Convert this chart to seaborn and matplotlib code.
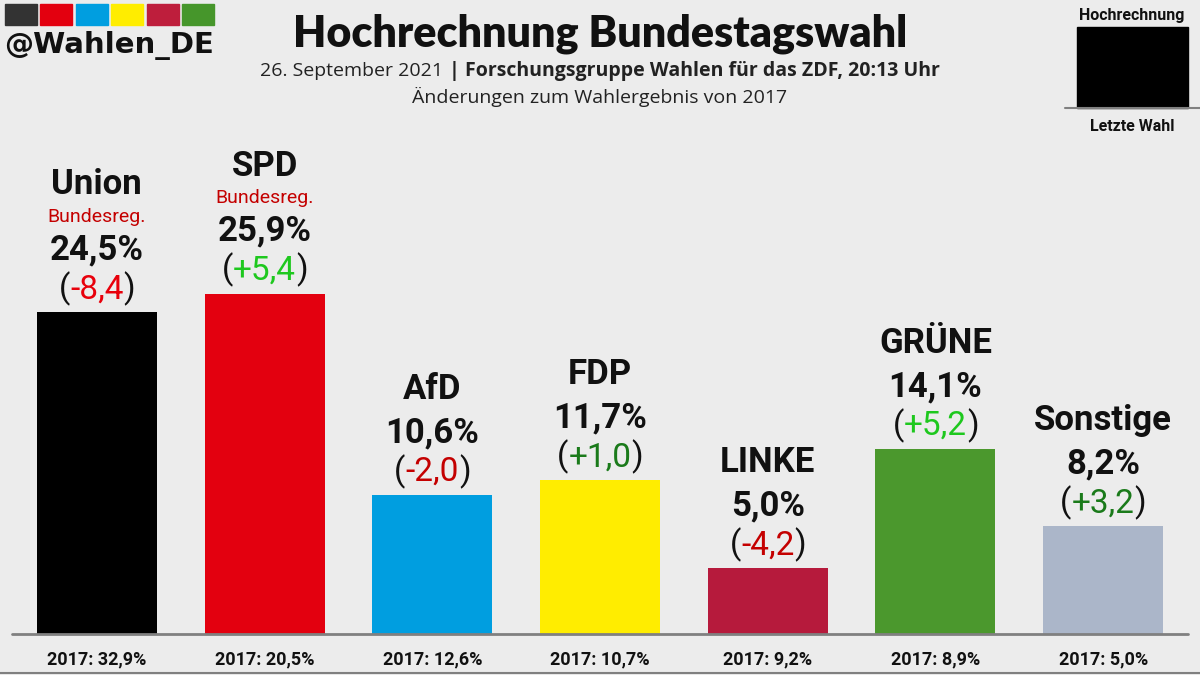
import numpy as np
import pandas as pd
import matplotlib
matplotlib.use("Agg")
import matplotlib.pyplot as plt
import seaborn as sns
from matplotlib.patches import Rectangle
from matplotlib.lines import Line2D

# Daten der Hochrechnung
parteien = ["Union", "SPD", "AfD", "FDP", "LINKE", "GRÜNE", "Sonstige"]
werte = [24.5, 25.9, 10.6, 11.7, 5.0, 14.1, 8.2]
aenderung = [-8.4, 5.4, -2.0, 1.0, -4.2, 5.2, 3.2]
wahl_2017 = [32.9, 20.5, 12.6, 10.7, 9.2, 8.9, 5.0]
regierung = [True, True, False, False, False, False, False]
farben = ["#000000", "#e3000f", "#009ee0", "#ffed00", "#b61a3c", "#4b982d", "#abb6c9"]
logo_farben = ["#333333", "#e3000f", "#009ee0", "#ffed00", "#be1e3c", "#46962b"]

BG = "#ececec"
W, H = 1200, 675


def fx(x):
    return x / W


def fy(y):
    return 1 - y / H


def komma(v, plus=False):
    s = f"{v:+.1f}" if plus else f"{v:.1f}"
    return s.replace(".", ",")


def farbe_aenderung(d):
    if d <= -5:
        return "#e8000b"
    if d < 0:
        return "#c40000"
    if d >= 5:
        return "#1ec81e"
    return "#1a7a1a"


sns.set_theme(style="white")
plt.rcParams["font.family"] = ["Roboto", "DejaVu Sans"]

fig = plt.figure(figsize=(12, 6.75), dpi=100)
fig.patch.set_facecolor(BG)

# Achse: Basislinie bei y=634 px, 13.14 px pro Prozentpunkt
ax = fig.add_axes([fx(13), (H - 634) / H, fx(1174), 634 / H])
ax.set_facecolor(BG)

df = pd.DataFrame({"Partei": parteien, "Wert": werte})
sns.barplot(data=df, x="Partei", y="Wert", hue="Partei", palette=farben,
            width=0.716, saturation=1, legend=False, linewidth=0, ax=ax)
ax.set_xlim(-0.5, 6.5)
ax.set_ylim(0, 634 / 13.14)
ax.axis("off")

fig.canvas.draw()
renderer = fig.canvas.get_renderer()

for i, p in enumerate(parteien):
    v = werte[i]
    d = aenderung[i]
    # Änderung mit Klammern
    mid = ax.annotate(komma(d, plus=True), (i, v), xytext=(0, 10), textcoords="offset points",
                      ha="center", va="baseline", fontsize=24, color=farbe_aenderung(d))
    bb = mid.get_window_extent(renderer=renderer)
    inv = ax.transData.inverted()
    lx = inv.transform((bb.x0, 0))[0]
    rx = inv.transform((bb.x1, 0))[0]
    ax.annotate("(", (lx, v), xytext=(0, 10), textcoords="offset points",
                ha="right", va="baseline", fontsize=24, color="#111111")
    ax.annotate(")", (rx, v), xytext=(0, 10), textcoords="offset points",
                ha="left", va="baseline", fontsize=24, color="#111111")
    ax.annotate(komma(v) + "%", (i, v), xytext=(0, 38), textcoords="offset points",
                ha="center", va="baseline", fontsize=25, fontweight="bold", color="#111111")
    if regierung[i]:
        ax.annotate("Bundesreg.", (i, v), xytext=(0, 65), textcoords="offset points",
                    ha="center", va="baseline", fontsize=14, color="#c40000")
        name_off = 85
    else:
        name_off = 69
    ax.annotate(p, (i, v), xytext=(0, name_off), textcoords="offset points",
                ha="center", va="baseline", fontsize=25, fontweight="bold", color="#111111")
    ax.annotate(f"2017: {komma(wahl_2017[i])}%", (i, 0), xytext=(0, -22),
                textcoords="offset points", ha="center", va="baseline",
                fontsize=13, fontweight="bold", color="#111111")

# Basislinie und unterer Rand
fig.add_artist(Line2D([fx(12), fx(1188)], [fy(634), fy(634)], color="#808080", lw=2))
fig.add_artist(Line2D([0, 1], [fy(673), fy(673)], color="#808080", lw=1.5))

# Logo oben links
for k, c in enumerate(logo_farben):
    x0 = 5 + k * 35.4
    fig.add_artist(Rectangle((fx(x0), fy(25)), fx(32), 21 / H, color=c,
                             transform=fig.transFigure))
fig.text(fx(4), fy(53), "@Wahlen_DE", fontsize=21, fontweight="bold",
         family=["DejaVu Sans"], color="#111111", va="baseline", ha="left")

# Titel
fig.text(0.5, fy(46), "Hochrechnung Bundestagswahl", fontsize=31, fontweight="heavy",
         family=["Lato", "DejaVu Sans"], color="#111111", ha="center", va="baseline")

t1 = fig.text(0, fy(76), "26. September 2021 ", fontsize=14,
              family=["Open Sans", "DejaVu Sans"], color="#222222", va="baseline")
t2 = fig.text(0, fy(76), "| Forschungsgruppe Wahlen für das ZDF, 20:13 Uhr", fontsize=14,
              fontweight="bold", family=["Open Sans", "DejaVu Sans"], color="#222222",
              va="baseline")
w1 = t1.get_window_extent(renderer=renderer).width
w2 = t2.get_window_extent(renderer=renderer).width
start = (W - (w1 + w2)) / 2
t1.set_x(start / W)
t2.set_x((start + w1) / W)

fig.text(0.5, fy(103), "Änderungen zum Wahlergebnis von 2017", fontsize=14,
         family=["Open Sans", "DejaVu Sans"], color="#222222", ha="center", va="baseline")

# Legende oben rechts
fig.add_artist(Rectangle((fx(1077), fy(108)), fx(111), 81 / H, color="#000000",
                         transform=fig.transFigure))
fig.add_artist(Line2D([fx(1065), 1], [fy(108), fy(108)], color="#808080", lw=1.5))
fig.text(fx(1132), fy(20), "Hochrechnung", fontsize=11.5, fontweight="bold",
         color="#111111", ha="center", va="baseline")
fig.text(fx(1132), fy(131), "Letzte Wahl", fontsize=11.5, fontweight="bold",
         color="#111111", ha="center", va="baseline")

fig.savefig("out.png", dpi=100, facecolor=BG)
